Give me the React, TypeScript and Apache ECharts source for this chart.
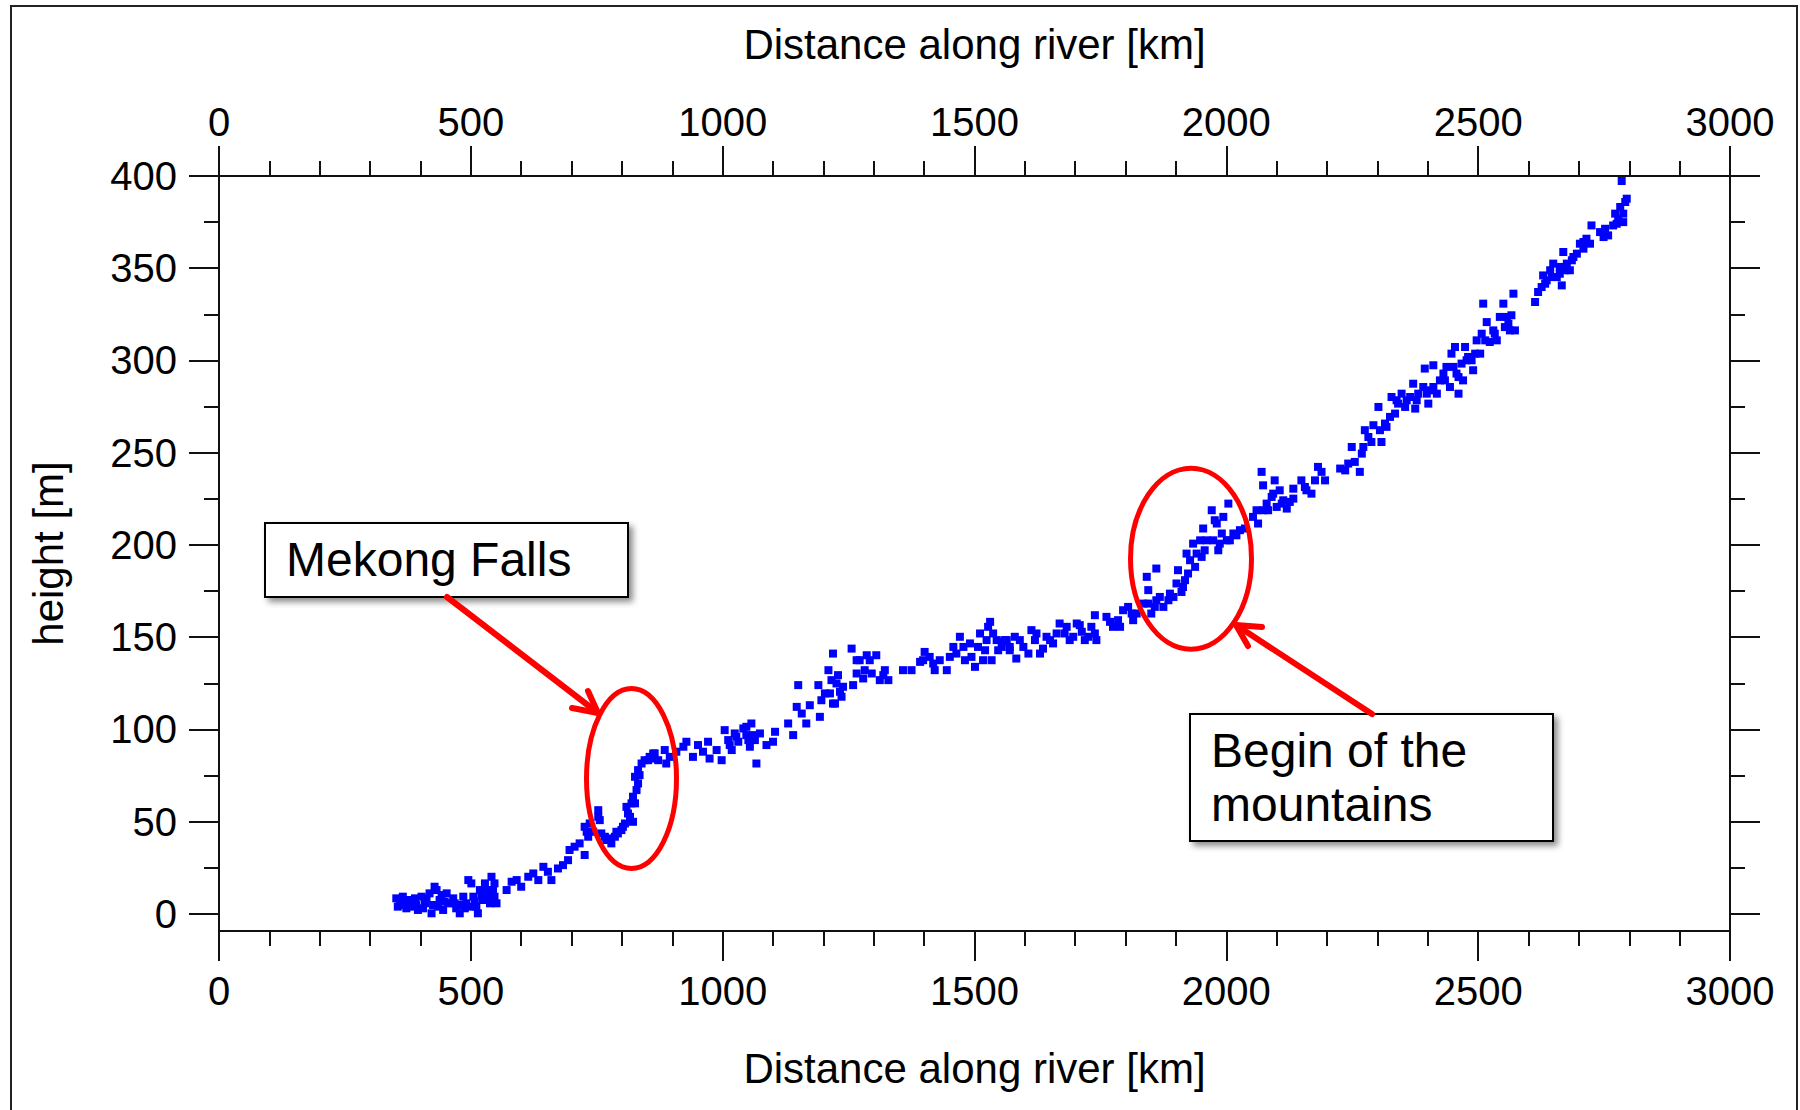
import React, { useEffect, useRef } from "react";
import * as echarts from "echarts";

// ---------- tick values ----------
const xTickInterval = 500;
const xMinorSplit = 5;
const yMajorTicks = [0, 50, 100, 150, 200, 250, 300, 350, 400];
const yMinorTicks = [25, 75, 125, 175, 225, 275, 325, 375];
const xRange = [0, 3000];
const yRange = [-9.3, 400];

// ---------- data: [distance km, height m] ----------
const lowerReach: [number, number][] = [
  [352, 8.4], [359, 5.7], [365, 9.3], [369, 4.8], [375, 7.5], [382, 3.9], [389, 8.4], [395, 2.1],
  [402, 9.3], [409, 5.7], [418, 11.1], [425, 4.8], [428, 14.7], [432, 12.9], [438, 7.5], [445, 2.1],
  [452, 11.1], [455, 5.7], [465, 8.4], [471, 3.0], [478, 0.3], [485, 9.3], [491, 5.7], [495, 18.3],
  [501, 16.5], [505, 9.3], [511, 3.9], [518, 12.9], [524, 7.5], [528, 16.5], [534, 9.3], [541, 20.1],
  [544, 12.9], [551, 5.7],
  [355, 3.9], [372, 3.0], [385, 6.6], [392, 4.8], [405, 3.0], [412, 8.4], [422, 0.3], [435, 3.9],
  [442, 10.2], [448, 6.6], [468, 5.7], [481, 4.8], [488, 3.0], [498, 3.9], [508, 6.6], [514, 0.3],
  [521, 10.2], [531, 12.9], [538, 5.7], [547, 9.3], [547, 16.5],
  [571, 12.9], [581, 17.4], [591, 18.3], [600, 14.7], [614, 20.1], [624, 21.9], [634, 18.3], [644, 25.5],
  [653, 22.8], [660, 18.3], [673, 24.6], [683, 26.4], [693, 29.1], [696, 34.6], [706, 36.4], [716, 38.2],
  [726, 31.9], [726, 47.2], [733, 41.8], [743, 44.5], [753, 56.2], [756, 50.8],
];

const mekongFalls: [number, number][] = [
  [759, 43.6], [769, 40.0], [779, 38.2], [786, 41.8], [792, 43.6], [799, 45.4], [806, 49.0], [809, 58.0],
  [816, 52.6], [822, 49.9], [822, 63.5], [826, 59.9], [829, 67.1], [826, 74.3], [832, 77.9], [839, 81.5],
  [845, 83.3], [855, 85.1], [865, 87.0],
  [730, 44.5], [736, 49.0], [753, 52.6], [766, 41.8], [776, 40.9], [789, 44.5], [802, 47.2], [812, 54.4],
  [819, 59.9], [832, 70.7], [835, 75.2], [852, 83.3], [862, 84.2],
];

const middleReach: [number, number][] = [
  [862, 86.9], [872, 83.3], [885, 88.8], [888, 81.5], [895, 85.1], [908, 87.9], [922, 90.6], [928, 93.3],
  [941, 85.1], [951, 91.5], [961, 87.9], [971, 93.3], [974, 84.2], [988, 88.8], [998, 83.3], [1004, 99.6],
  [1011, 94.2], [1018, 88.8], [1024, 97.8], [1031, 93.3], [1041, 100.5], [1047, 96.9], [1054, 90.6],
  [1057, 103.2], [1064, 94.2], [1067, 81.5], [1074, 97.8], [1087, 91.5], [1100, 93.3], [1104, 98.7],
  [1130, 103.2], [1140, 96.9], [1147, 112.2], [1150, 124.0], [1157, 108.6], [1166, 103.2], [1173, 113.1],
  [1190, 124.0], [1193, 106.8], [1196, 115.8], [1203, 119.5], [1210, 132.1], [1216, 126.7], [1219, 141.1],
  [1223, 114.0], [1229, 129.4], [1233, 120.4], [1239, 123.1], [1256, 143.8], [1259, 124.0], [1266, 130.3],
  [1272, 137.5], [1279, 127.6], [1286, 140.2], [1296, 130.3], [1305, 140.2], [1312, 126.7], [1322, 132.1],
  [1329, 126.7], [1358, 132.1], [1375, 132.1], [1392, 136.6], [1401, 142.0], [1411, 139.3], [1421, 132.1],
  [1431, 137.5], [1445, 132.1], [1451, 139.3], [1458, 144.7], [1471, 150.2], [1481, 137.5], [1491, 146.6],
  [1501, 133.9], [1511, 152.0], [1521, 142.9], [1527, 155.6], [1531, 158.3], [1534, 137.5], [1544, 148.4],
  [1554, 144.7], [1564, 148.4], [1570, 144.7],
  [1047, 101.4], [1051, 94.2], [1061, 96.9], [1014, 91.5], [1027, 96.0], [1213, 119.5], [1219, 114.0],
  [1226, 124.9], [1236, 117.7], [1266, 137.5], [1282, 132.1], [1292, 137.5], [1319, 129.4], [1398, 137.5],
  [1418, 135.7], [1464, 141.1], [1478, 144.7], [1494, 139.3], [1507, 144.7], [1517, 137.5], [1524, 148.4],
  [1537, 152.0], [1547, 142.9], [1557, 147.5],
];

const mountainFoot: [number, number][] = [
  [1560, 148.4], [1570, 142.9], [1580, 150.2], [1583, 138.4], [1597, 144.7], [1613, 153.8], [1620, 148.4],
  [1630, 141.1], [1643, 150.2], [1656, 146.6], [1669, 157.4], [1679, 152.0], [1689, 148.4], [1703, 157.4],
  [1713, 152.9], [1726, 150.2], [1739, 161.9], [1742, 148.4], [1762, 161.0], [1775, 155.6], [1785, 159.2],
  [1795, 164.6], [1805, 166.4], [1815, 159.2], [1822, 162.8], [1835, 168.2], [1842, 182.7], [1845, 175.5],
  [1851, 162.8], [1861, 187.2], [1861, 170.0], [1875, 166.4], [1885, 170.0], [1895, 171.8], [1901, 179.1],
  [1904, 186.3], [1911, 174.5], [1918, 180.9], [1921, 195.3], [1928, 191.7], [1934, 200.7], [1938, 188.1],
  [1948, 202.5], [1951, 193.5], [1957, 197.1], [1954, 208.9], [1971, 218.8], [1974, 202.5], [1981, 211.6],
  [1984, 197.1], [1991, 206.2], [1994, 215.2], [2004, 222.4], [2007, 202.5], [2014, 206.2], [2027, 208.0],
  [2037, 208.9], [2053, 215.2], [2063, 211.6], [2070, 239.6], [2073, 218.8], [2073, 232.3], [2080, 222.4],
  [2090, 226.0], [2096, 235.0], [2100, 220.6], [2106, 229.6], [2113, 224.2], [2120, 219.7], [2133, 225.1],
  [2133, 230.5], [2149, 235.0], [2156, 231.4], [2169, 227.8], [2176, 235.0], [2182, 242.3], [2189, 239.6],
  [2196, 235.0],
  [1590, 148.4], [1607, 141.1], [1623, 152.0], [1636, 143.8], [1650, 148.4], [1663, 152.0], [1683, 155.6],
  [1696, 150.2], [1709, 156.5], [1719, 148.4], [1732, 155.6], [1739, 152.0], [1769, 158.3], [1789, 155.6],
  [1812, 162.8], [1845, 168.2], [1858, 166.4], [1868, 171.8], [1888, 173.6], [1914, 177.2], [1924, 184.5],
  [1941, 195.3], [1961, 202.5], [1977, 213.4], [1987, 200.7], [2001, 202.5], [2020, 205.2], [2060, 218.8],
  [2083, 218.8], [2093, 227.8], [2110, 222.4], [2126, 223.3], [2159, 229.6],
];

const upperReach: [number, number][] = [
  [2226, 241.4], [2236, 240.4], [2249, 253.1], [2255, 245.0], [2265, 239.6], [2269, 249.5], [2275, 262.2],
  [2282, 258.5], [2288, 255.8], [2292, 264.9], [2302, 274.8], [2305, 262.2], [2308, 255.8], [2315, 265.8],
  [2325, 269.4], [2328, 280.2], [2335, 271.2], [2341, 276.6], [2348, 282.0], [2355, 274.8], [2365, 280.2],
  [2371, 287.4], [2375, 273.9], [2381, 282.0], [2391, 285.6], [2394, 295.6], [2401, 276.6], [2404, 283.8],
  [2411, 297.4], [2418, 282.0], [2424, 289.2], [2431, 292.9], [2437, 296.5], [2444, 285.6], [2447, 303.7],
  [2454, 307.3], [2457, 292.9], [2461, 282.0], [2467, 298.3], [2470, 289.2], [2474, 307.3], [2480, 301.9],
  [2487, 300.1], [2490, 294.7], [2497, 310.9], [2504, 303.7], [2507, 314.5], [2510, 330.8], [2517, 320.8],
  [2523, 310.0], [2530, 316.3], [2537, 310.9], [2543, 323.6], [2550, 330.8], [2553, 318.1], [2560, 319.9],
  [2566, 324.5], [2570, 336.2], [2573, 316.3], [2613, 331.7], [2619, 337.1], [2626, 339.8], [2629, 346.1],
  [2636, 343.4], [2643, 348.9], [2649, 352.5], [2656, 345.2], [2662, 350.7], [2666, 340.7], [2669, 358.8],
  [2676, 352.5], [2682, 348.9], [2689, 356.1], [2696, 357.9], [2702, 363.3], [2709, 360.6], [2715, 366.0],
  [2722, 363.3], [2725, 373.2], [2742, 369.6], [2752, 371.4], [2758, 367.8], [2768, 373.2], [2772, 379.6],
  [2778, 376.8], [2782, 383.2], [2788, 375.0], [2792, 385.9], [2795, 387.7], [2785, 397.3],
  [2242, 244.1], [2272, 253.1], [2318, 264.0], [2338, 278.4], [2358, 278.4], [2378, 278.4], [2398, 282.0],
  [2411, 285.6], [2434, 289.2], [2451, 296.5], [2461, 291.0], [2477, 300.1], [2494, 303.7], [2514, 310.9],
  [2533, 314.5], [2557, 323.6], [2563, 316.3], [2633, 341.6], [2646, 345.2], [2662, 347.0], [2672, 348.9],
  [2686, 354.3], [2709, 364.2], [2749, 366.9], [2775, 374.1], [2788, 379.6],
];

const xAxisTitle = "Distance along river [km]";
const yAxisTitle = "height [m]";
const noteFalls = "Mekong Falls";
const noteMountains = ["Begin of the", "mountains"];

const FONT = '"Liberation Sans", Arial, Helvetica, sans-serif';
const AXIS_COLOR = "#111";
const RED = "#ff0000";

function App() {
  const ref = useRef<HTMLDivElement>(null);

  useEffect(() => {
    if (!ref.current) return;
    const chart = echarts.init(ref.current, undefined, { renderer: "svg" });

    const lineStyle = { color: AXIS_COLOR, width: 2 };
    const labelStyle = { fontFamily: FONT, fontSize: 40, color: "#000" };
    const nameStyle = { fontFamily: FONT, fontSize: 42, color: "#000" };
    const plain = (v: number) => String(v);

    const xAxisBase = (position: "top" | "bottom", margin: number, nameGap: number) => ({
      type: "value",
      position,
      min: xRange[0],
      max: xRange[1],
      interval: xTickInterval,
      axisLine: { show: true, onZero: false, lineStyle },
      axisTick: { show: true, inside: false, length: 30, lineStyle },
      minorTick: { show: true, splitNumber: xMinorSplit, length: 15, lineStyle },
      splitLine: { show: false },
      minorSplitLine: { show: false },
      axisLabel: { ...labelStyle, margin, showMinLabel: true, showMaxLabel: true, formatter: plain },
      name: xAxisTitle,
      nameLocation: "middle",
      nameGap,
      nameTextStyle: nameStyle,
    });

    const yAxisBase = (position: "left" | "right", ticks: number[], len: number, showLine: boolean, labels: boolean) => ({
      type: "value",
      position,
      min: yRange[0],
      max: yRange[1],
      axisLine: { show: showLine, onZero: false, lineStyle },
      axisTick: { show: true, inside: false, length: len, lineStyle, customValues: ticks },
      splitLine: { show: false },
      axisLabel: labels
        ? { show: true, ...labelStyle, margin: 42, customValues: ticks, formatter: plain }
        : { show: false },
    });

    const yMain: any = yAxisBase("left", yMajorTicks, 30, true, true);
    yMain.name = yAxisTitle;
    yMain.nameLocation = "middle";
    yMain.nameGap = 150;
    yMain.nameTextStyle = nameStyle;

    const allPoints = [...lowerReach, ...mekongFalls, ...middleReach, ...mountainFoot, ...upperReach];

    const option: any = {
      animation: false,
      backgroundColor: "#ffffff",
      grid: { left: 219, right: 70, top: 176, bottom: 179, containLabel: false },
      xAxis: [xAxisBase("bottom", 40, 116), xAxisBase("top", 34, 111)],
      yAxis: [
        yMain,
        yAxisBase("left", yMinorTicks, 15, false, false),
        yAxisBase("right", yMajorTicks, 30, true, false),
        yAxisBase("right", yMinorTicks, 15, false, false),
      ],
      series: [
        {
          type: "scatter",
          xAxisIndex: 0,
          yAxisIndex: 0,
          data: allPoints,
          symbol: "rect",
          symbolSize: 8,
          itemStyle: { color: "#0000ff", opacity: 1 },
          silent: true,
          clip: false,
        },
      ],
      graphic: [
        {
          type: "rect",
          z: 1,
          shape: { x: 11, y: 6, width: 1786, height: 1200 },
          style: { fill: "none", stroke: "#222", lineWidth: 2 },
        },
        // Mekong Falls note
        {
          type: "rect",
          z: 100,
          shape: { x: 265, y: 523, width: 363, height: 74 },
          style: {
            fill: "#fff", stroke: "#000", lineWidth: 2,
            shadowBlur: 6, shadowOffsetX: 4, shadowOffsetY: 4, shadowColor: "rgba(0,0,0,0.45)",
          },
        },
        {
          type: "text",
          z: 101,
          x: 286,
          y: 559,
          style: { text: noteFalls, fontFamily: FONT, fontSize: 48, fill: "#000", align: "left", verticalAlign: "middle" },
        },
        {
          type: "line",
          z: 100,
          shape: { x1: 447, y1: 597, x2: 598, y2: 713 },
          style: { stroke: RED, lineWidth: 6, lineCap: "round" },
        },
        {
          type: "polyline",
          z: 100,
          shape: { points: [[588, 691], [598, 713], [572, 708]] },
          style: { stroke: RED, lineWidth: 6, fill: "none", lineCap: "round", lineJoin: "round" },
        },
        {
          type: "ellipse",
          z: 100,
          shape: { cx: 631.5, cy: 778.6, rx: 45, ry: 90 },
          style: { fill: "none", stroke: RED, lineWidth: 5 },
        },
        // Mountains note
        {
          type: "rect",
          z: 100,
          shape: { x: 1190, y: 714, width: 363, height: 127 },
          style: {
            fill: "#fff", stroke: "#000", lineWidth: 2,
            shadowBlur: 6, shadowOffsetX: 4, shadowOffsetY: 4, shadowColor: "rgba(0,0,0,0.45)",
          },
        },
        {
          type: "text",
          z: 101,
          x: 1211,
          y: 750,
          style: { text: noteMountains[0], fontFamily: FONT, fontSize: 48, fill: "#000", align: "left", verticalAlign: "middle" },
        },
        {
          type: "text",
          z: 101,
          x: 1211,
          y: 804,
          style: { text: noteMountains[1], fontFamily: FONT, fontSize: 48, fill: "#000", align: "left", verticalAlign: "middle" },
        },
        {
          type: "line",
          z: 100,
          shape: { x1: 1372, y1: 714, x2: 1236, y2: 625 },
          style: { stroke: RED, lineWidth: 6, lineCap: "round" },
        },
        {
          type: "polyline",
          z: 100,
          shape: { points: [[1262, 627], [1236, 625], [1248, 646]] },
          style: { stroke: RED, lineWidth: 6, fill: "none", lineCap: "round", lineJoin: "round" },
        },
        {
          type: "ellipse",
          z: 100,
          shape: { cx: 1191, cy: 558.7, rx: 60.5, ry: 90.5 },
          style: { fill: "none", stroke: RED, lineWidth: 5 },
        },
      ],
    };

    chart.setOption(option);
    return () => chart.dispose();
  }, []);

  return (
    <div
      ref={ref}
      style={{ position: "fixed", left: 0, top: 0, width: 1800, height: 1110, background: "#fff" }}
    />
  );
}

export default App;
